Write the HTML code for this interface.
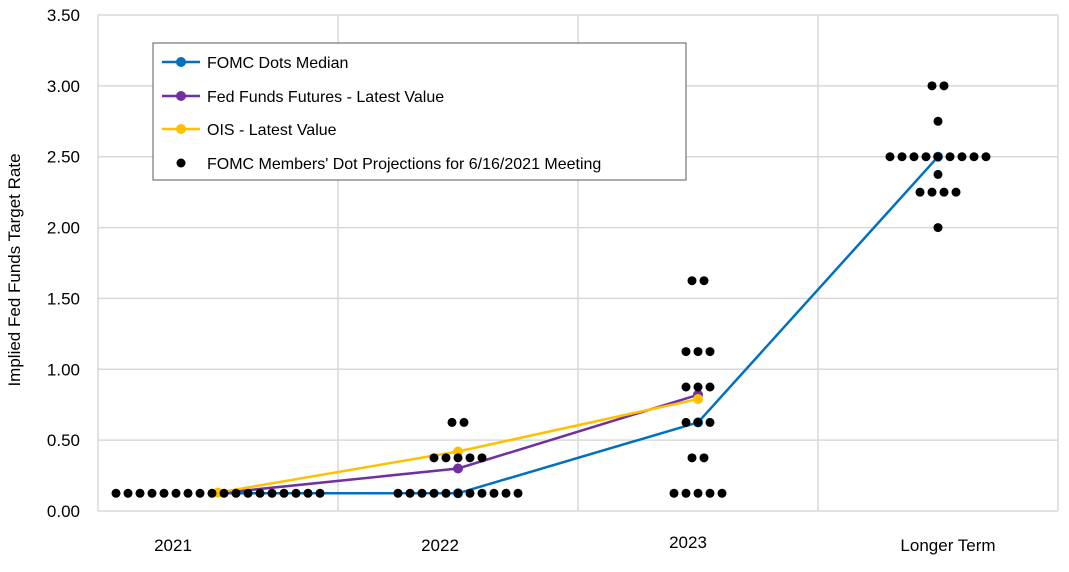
<!DOCTYPE html>
<html><head><meta charset="utf-8"><style>
body{margin:0;background:#fff;font-family:"Liberation Sans",Arial,sans-serif;}
svg text{font-family:"Liberation Sans",Arial,sans-serif;}
</style></head><body>
<svg id="chart" width="1069" height="567" xmlns="http://www.w3.org/2000/svg">
<g id="grid"></g>
<g id="yaxis"></g>
<g id="xaxis"></g>
<g id="lines"></g>
<g id="dots"></g>
<text transform="translate(20,270) rotate(-90)" text-anchor="middle" font-size="17" fill="#000">Implied Fed Funds Target Rate</text>
<g>
<rect x="153" y="43" width="533" height="137" fill="#fff" stroke="#595959" stroke-width="1"/>
<line x1="162" y1="62" x2="200" y2="62" stroke="#0070C0" stroke-width="2.5"/><circle cx="181" cy="62" r="5" fill="#0070C0"/>
<text x="207" y="68" font-size="16">FOMC Dots Median</text>
<line x1="162" y1="96" x2="200" y2="96" stroke="#7030A0" stroke-width="2.5"/><circle cx="181" cy="96" r="5" fill="#7030A0"/>
<text x="207" y="102" font-size="16">Fed Funds Futures - Latest Value</text>
<line x1="162" y1="129" x2="200" y2="129" stroke="#FFC000" stroke-width="2.5"/><circle cx="181" cy="129" r="5" fill="#FFC000"/>
<text x="207" y="135" font-size="16">OIS - Latest Value</text>
<circle cx="181" cy="163" r="4.5" fill="#000"/>
<text x="207" y="169" font-size="16">FOMC Members' Dot Projections for 6/16/2021 Meeting</text>
</g>
</svg>
<script>
const categories=["2021","2022","2023","Longer Term"];
const labelOffsets=[-45,-18,-10,10];
const yTicks=[0,0.5,1,1.5,2,2.5,3,3.5];
const medianValues=[0.125,0.125,0.625,2.5];
const futuresValues=[0.125,0.30,0.82];
const oisValues=[0.13,0.42,0.79];
// dot projections: [level, count] per category
const dots2021=[[0.125,18]];
const dots2022=[[0.125,11],[0.375,5],[0.625,2]];
const dots2023=[[0.125,5],[0.375,2],[0.625,3],[0.875,3],[1.125,3],[1.625,2]];
const dotsLT=[[2.0,1],[2.25,4],[2.375,1],[2.5,9],[2.75,1],[3.0,2]];
const allDots=[dots2021,dots2022,dots2023,dotsLT];

const NS="http://www.w3.org/2000/svg";
const X0=98,X1=1058,Y0=511,Y1=15,YMAX=3.5;
const bw=(X1-X0)/categories.length;
const xc=i=>X0+bw*(i+0.5);
const y=v=>Y0-(v/YMAX)*(Y0-Y1);
function mk(tag,attrs,parent,txt){const e=document.createElementNS(NS,tag);for(const k in attrs)e.setAttribute(k,attrs[k]);if(txt!==undefined)e.textContent=txt;document.getElementById(parent).appendChild(e);return e;}
yTicks.forEach(t=>{
 const l=mk('line',{x1:X0,x2:X1,y1:y(t),y2:y(t),stroke:'#d9d9d9','stroke-width':1.5},'grid');
 
 
 const tx=mk('text',{x:80,y:y(t)+6,'text-anchor':'end','font-size':17},'yaxis',t.toFixed(2));
 
 
});
for(let i=0;i<=categories.length;i++){
 const l=mk('line',{x1:X0+bw*i,x2:X0+bw*i,y1:Y1,y2:Y0,stroke:'#d9d9d9','stroke-width':1.5},'grid');
 
 
}
categories.forEach((c,i)=>{
 const tx=mk('text',{x:xc(i)+labelOffsets[i],y:i==2?548:551,'text-anchor':'middle','font-size':17},'xaxis',c);
 
 
});
allDots.forEach((rows,i)=>{
 rows.forEach(([lv,n])=>{
  for(let k=0;k<n;k++){
   const c=mk('circle',{cx:xc(i)+(k-(n-1)/2)*12,cy:y(lv),r:4.5,fill:'#000'},'dots');
   
   
  }
 });
});
function series(vals,color,name){
 const pts=vals.map((v,i)=>xc(i)+','+y(v)).join(' ');
 const p=mk('polyline',{points:pts,fill:'none',stroke:color,'stroke-width':2.5},'lines');
 
 
 vals.forEach((v,i)=>{
  if(i===0&&name!=='ois')return;
  const c=mk('circle',{cx:xc(i),cy:y(v),r:5,fill:color},'lines');
  
  
 });
}
series(medianValues,'#0070C0','fomc-median');
series(futuresValues,'#7030A0','futures');
series(oisValues,'#FFC000','ois');
</script>
</body></html>
